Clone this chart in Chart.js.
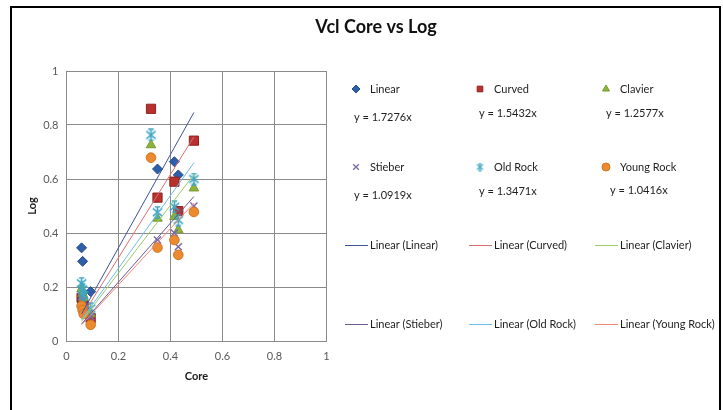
<!DOCTYPE html>
<html lang="en">
<head>
<meta charset="UTF-8">
<title>Vcl Core vs Log</title>
<script src="https://cdn.jsdelivr.net/npm/chart.js@4"></script>
<style>
  body { margin: 0; background: #fff; }
  #wrap { position: relative; width: 723px; height: 410px; }
</style>
</head>
<body>
<div id="wrap"><canvas id="grafico"></canvas></div>
<script>
// core vs log values for each Vcl method
const seriesNames = ['Linear', 'Curved', 'Clavier', 'Stieber', 'Old Rock', 'Young Rock'];
const coreValues = [0.058, 0.062, 0.066, 0.093, 0.325, 0.35, 0.415, 0.43, 0.49];
const linearLog = [0.345, 0.295, null, 0.183, null, 0.637, 0.664, 0.615, null];
const curvedLog = [0.16, 0.145, 0.13, 0.085, 0.86, 0.531, 0.59, 0.481, 0.742];
const clavierLog = [0.193, 0.175, 0.16, 0.10, 0.726, 0.454, 0.46, 0.411, 0.566];
const stieberLog = [0.165, 0.15, 0.125, 0.09, null, 0.374, 0.40, 0.349, 0.50];
const oldRockLog = [0.214, 0.19, 0.17, 0.12, 0.763, 0.477, 0.497, 0.448, 0.60];
const youngRockLog = [0.13, 0.115, 0.10, 0.06, 0.679, 0.346, 0.374, 0.319, 0.478];
const slopes = [1.7276, 1.5432, 1.2577, 1.0919, 1.3471, 1.0416];
const axisTicks = [0, 0.2, 0.4, 0.6, 0.8, 1];

const allLogs = [linearLog, curvedLog, clavierLog, stieberLog, oldRockLog, youngRockLog];
const markerFill = ['#2E5FA8', '#B8312F', '#8DB53C', '#8F80B8', '#3FA6C4', '#EB8A2E'];
const markerLine = ['#244C8A', '#8E2222', '#76992F', '#7A68A8', '#2E95B4', '#D27520'];
const trendColor = ['#3F5296', '#DA6F6F', '#9CCB6E', '#6C5A8E', '#6DBDE6', '#F28A78'];

// asterisk marker (X with a vertical bar and caps)
function makeAsterisk(color, size, lw) {
  const c = document.createElement('canvas');
  c.width = size; c.height = size;
  const g = c.getContext('2d');
  const m = size / 2, r = size / 2 - 1;
  g.strokeStyle = color;
  g.lineWidth = lw;
  g.beginPath();
  g.moveTo(m - r * 0.85, m - r * 0.7); g.lineTo(m + r * 0.85, m + r * 0.7);
  g.moveTo(m + r * 0.85, m - r * 0.7); g.lineTo(m - r * 0.85, m + r * 0.7);
  g.moveTo(m, m - r); g.lineTo(m, m + r);
  g.moveTo(m - r * 0.5, m - r); g.lineTo(m + r * 0.5, m - r);
  g.moveTo(m - r * 0.5, m + r); g.lineTo(m + r * 0.5, m + r);
  g.stroke();
  return c;
}

const styles = ['rectRot', 'rect', 'triangle', 'crossRot', makeAsterisk(markerFill[4], 13, 1.6), 'circle'];
const legendStyles = ['rectRot', 'rect', 'triangle', 'crossRot', makeAsterisk(markerFill[4], 9, 1.2), 'circle'];
const radii = [5, 6.5, 5.5, 5, 6, 4.8];

const datasets = [];
allLogs.forEach(function (logs, i) {
  const pts = [];
  coreValues.forEach(function (x, k) {
    if (logs[k] !== null) pts.push({ x: x, y: logs[k] });
  });
  datasets.push({
    label: seriesNames[i],
    data: pts,
    pointStyle: styles[i],
    pointRadius: radii[i],
    backgroundColor: markerFill[i],
    borderColor: markerLine[i],
    borderWidth: i === 3 ? 1.5 : 1,
    order: 10 - i
  });
});

// linear trendlines through the origin, over the core range
const xMin = Math.min.apply(null, coreValues);
const xMax = Math.max.apply(null, coreValues);
slopes.forEach(function (s, i) {
  datasets.push({
    label: 'Linear (' + seriesNames[i] + ')',
    data: [{ x: xMin, y: s * xMin }, { x: xMax, y: s * xMax }],
    showLine: true,
    pointRadius: 0,
    borderColor: trendColor[i],
    borderWidth: 1,
    order: 0
  });
});

const colText = [370, 494, 620];
const colMarker = [356, 480, 606];
const markerRows = [89, 167];
const eqPos = [[354, 117], [479, 113], [606, 113], [354, 195], [479, 191], [610, 190]];
const lineRows = [245, 324];

const frameAndLegend = {
  id: 'frameAndLegend',
  beforeDraw(chart) {
    const ctx = chart.ctx;
    ctx.save();
    ctx.fillStyle = '#fff';
    ctx.fillRect(0, 0, chart.width, chart.height);
    ctx.strokeStyle = '#000';
    ctx.lineWidth = 2;
    ctx.strokeRect(11, 7, 709, 430);
    ctx.restore();
  },
  afterDraw(chart) {
    const ctx = chart.ctx;
    ctx.save();
    ctx.fillStyle = '#111';
    ctx.font = 'bold 18px Lato';
    ctx.textAlign = 'center';
    ctx.textBaseline = 'middle';
    ctx.fillText('Vcl Core vs Log', 376, 27);

    ctx.textAlign = 'left';
    ctx.font = '11px Lato';
    for (let i = 0; i < 6; i++) {
      const col = i % 3, row = Math.floor(i / 3);
      const my = markerRows[row];
      ctx.fillStyle = markerFill[i];
      ctx.strokeStyle = markerLine[i];
      ctx.lineWidth = i === 3 ? 1.3 : 1;
      Chart.helpers.drawPoint(ctx, { pointStyle: legendStyles[i], radius: 4, rotation: 0, borderWidth: 1 }, colMarker[col], my);
      ctx.fillStyle = '#1e1e1e';
      ctx.fillText(seriesNames[i], colText[col], my);
      ctx.fillText('y = ' + slopes[i] + 'x', eqPos[i][0], eqPos[i][1]);

      const ly = lineRows[row];
      ctx.strokeStyle = trendColor[i];
      ctx.lineWidth = 1;
      ctx.beginPath();
      ctx.moveTo(colText[col] - 25, ly + 0.5);
      ctx.lineTo(colText[col] - 2, ly + 0.5);
      ctx.stroke();
      ctx.fillText('Linear (' + seriesNames[i] + ')', colText[col], ly);
    }
    ctx.restore();
  }
};

const gridColor = '#8a8a8a';
const tickText = function (v) { return String(v); };

new Chart(document.getElementById('grafico'), {
  type: 'scatter',
  data: { datasets: datasets },
  options: {
    responsive: true,
    maintainAspectRatio: false,
    animation: false,
    layout: { padding: { left: 0, top: 71, right: 396.5, bottom: 0 } },
    plugins: {
      legend: { display: false },
      title: { display: false },
      tooltip: { enabled: false }
    },
    scales: {
      x: {
        type: 'linear',
        min: 0,
        max: 1,
        afterBuildTicks: function (scale) { scale.ticks = axisTicks.map(function (v) { return { value: v }; }); },
        afterFit: function (scale) { scale.height = 69; },
        grid: { color: gridColor, drawTicks: false },
        border: { color: gridColor },
        ticks: { padding: 9, color: '#595959', callback: tickText, font: { family: 'Lato', size: 11 } },
        title: { display: true, text: 'Core', color: '#1a1a1a', padding: { top: 0, bottom: 27 }, font: { family: 'Lato', size: 11, weight: 'bold' } }
      },
      y: {
        type: 'linear',
        min: 0,
        max: 1,
        afterBuildTicks: function (scale) { scale.ticks = axisTicks.map(function (v) { return { value: v }; }); },
        afterFit: function (scale) { scale.width = 66.5; },
        grid: { color: gridColor, drawTicks: false },
        border: { color: gridColor },
        ticks: { padding: 8, color: '#595959', callback: tickText, font: { family: 'Lato', size: 11 } },
        title: { display: true, text: 'Log', color: '#1a1a1a', padding: { top: 26, bottom: 0 }, font: { family: 'Lato', size: 11, weight: 'bold' } }
      }
    }
  },
  plugins: [frameAndLegend]
});
</script>
</body>
</html>
